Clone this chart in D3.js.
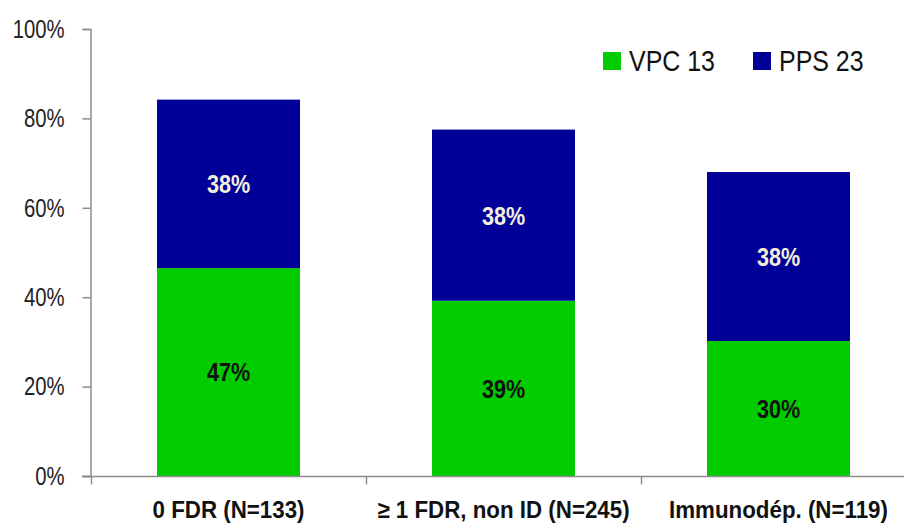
<!DOCTYPE html>
<html>
<head>
<meta charset="utf-8">
<script src="https://cdn.jsdelivr.net/npm/d3@7"></script>
<style>
  body { margin: 0; background: #fff; }
  svg { display: block; font-family: "Liberation Sans", Arial, sans-serif; }
</style>
</head>
<body>
<svg width="904" height="524"></svg>
<script>
const categories = ['0 FDR (N=133)', '\u2265 1 FDR, non ID (N=245)', 'Immunod\u00e9p. (N=119)'];
const vpc13 = [0.465, 0.392, 0.302];
const pps23 = [0.377, 0.383, 0.378];
const vpcLabels = ['47%', '39%', '30%'];
const ppsLabels = ['38%', '38%', '38%'];
const yTicks = [0, 0.2, 0.4, 0.6, 0.8, 1];

const svg = d3.select('svg');
const width = +svg.attr('width');
const height = +svg.attr('height');

const green = '#00cc00';
const blue = '#000099';
const axisColor = '#8c8c8c';

// the reference uses a narrow face; squeeze Liberation Sans to match
const condense = (sel, factor) => sel.each(function() {
	const len = this.getComputedTextLength();
	d3.select(this)
		.attr('textLength', len * factor)
		.attr('lengthAdjust', 'spacingAndGlyphs');
});

const xScale = d3.scaleBand()
	.domain(categories)
	.range([91, 916])
	.paddingInner(0.48)
	.paddingOuter(0.24);

const yScale = d3.scaleLinear()
	.domain([0, 1])
	.range([476, 29]);

// y axis
const yAxisG = svg.append('g')
	.attr('transform', 'translate(90.5, 0)')
	.call(d3.axisLeft(yScale)
		.tickValues(yTicks)
		.tickFormat(d3.format('.0%'))
		.tickSize(8)
		.tickPadding(18));
yAxisG.select('.domain').attr('stroke', axisColor).attr('stroke-width', 1.5);
yAxisG.selectAll('.tick line').attr('stroke', axisColor).attr('stroke-width', 1.5);
yAxisG.selectAll('.tick text')
	.attr('font-size', 26)
	.attr('font-family', '"Liberation Sans", Arial, sans-serif')
	.attr('fill', '#222')
	.call(condense, 0.78);

// stacked bars
const rows = categories.map((c, i) => ({cat: c, v: vpc13[i], p: pps23[i], vl: vpcLabels[i], pl: ppsLabels[i]}));

const g = svg.append('g');
g.selectAll('rect.vpc').data(rows)
	.enter().append('rect')
		.attr('class', 'vpc')
		.attr('x', d => xScale(d.cat))
		.attr('width', xScale.bandwidth())
		.attr('y', d => yScale(d.v))
		.attr('height', d => yScale(0) - yScale(d.v))
		.attr('fill', green);

g.selectAll('rect.pps').data(rows)
	.enter().append('rect')
		.attr('class', 'pps')
		.attr('x', d => xScale(d.cat))
		.attr('width', xScale.bandwidth())
		.attr('y', d => yScale(d.v + d.p))
		.attr('height', d => yScale(d.v) - yScale(d.v + d.p))
		.attr('fill', blue);

g.selectAll('text.vl').data(rows)
	.enter().append('text')
		.attr('class', 'vl')
		.attr('x', d => xScale(d.cat) + xScale.bandwidth() / 2)
		.attr('y', d => yScale(d.v / 2))
		.attr('dy', '0.36em')
		.attr('text-anchor', 'middle')
		.attr('font-size', 26)
		.attr('font-weight', 'bold')
		.attr('fill', '#111')
		.text(d => d.vl)
		.call(condense, 0.83);

g.selectAll('text.pl').data(rows)
	.enter().append('text')
		.attr('class', 'pl')
		.attr('x', d => xScale(d.cat) + xScale.bandwidth() / 2)
		.attr('y', d => yScale(d.v + d.p / 2))
		.attr('dy', '0.36em')
		.attr('text-anchor', 'middle')
		.attr('font-size', 26)
		.attr('font-weight', 'bold')
		.attr('fill', '#f3efda')
		.text(d => d.pl)
		.call(condense, 0.83);

// x axis
const xAxisG = svg.append('g')
	.attr('transform', `translate(0, ${yScale(0) + 0.5})`)
	.call(d3.axisBottom(xScale).tickSize(0));
xAxisG.select('.domain').remove();
xAxisG.append('line')
	.attr('x1', 82).attr('x2', width)
	.attr('stroke', axisColor).attr('stroke-width', 1.5);
const half = (xScale.step() - xScale.bandwidth()) / 2;
xAxisG.selectAll('line.sep').data(categories)
	.enter().append('line')
		.attr('class', 'sep')
		.attr('x1', d => Math.round(xScale(d) - half) + 0.5)
		.attr('x2', d => Math.round(xScale(d) - half) + 0.5)
		.attr('y1', 0).attr('y2', 8)
		.attr('stroke', axisColor).attr('stroke-width', 1.5);
xAxisG.selectAll('.tick text')
	.attr('y', 41)
	.attr('dy', 0)
	.attr('font-size', 24)
	.attr('font-family', '"Liberation Sans", Arial, sans-serif')
	.attr('font-weight', 'bold')
	.attr('fill', '#111')
	.call(condense, 0.93);

// legend
const legend = svg.append('g');
const legendItems = [
	{name: 'VPC 13', color: green, x: 603},
	{name: 'PPS 23', color: blue, x: 753}
];
legend.selectAll('rect').data(legendItems)
	.enter().append('rect')
		.attr('x', d => d.x)
		.attr('y', 52)
		.attr('width', 18)
		.attr('height', 18)
		.attr('fill', d => d.color);
legend.selectAll('text').data(legendItems)
	.enter().append('text')
		.attr('x', d => d.x + 26)
		.attr('y', 71)
		.attr('font-size', 29)
		.attr('fill', '#111')
		.text(d => d.name)
		.call(condense, 0.86);
</script>
</body>
</html>
